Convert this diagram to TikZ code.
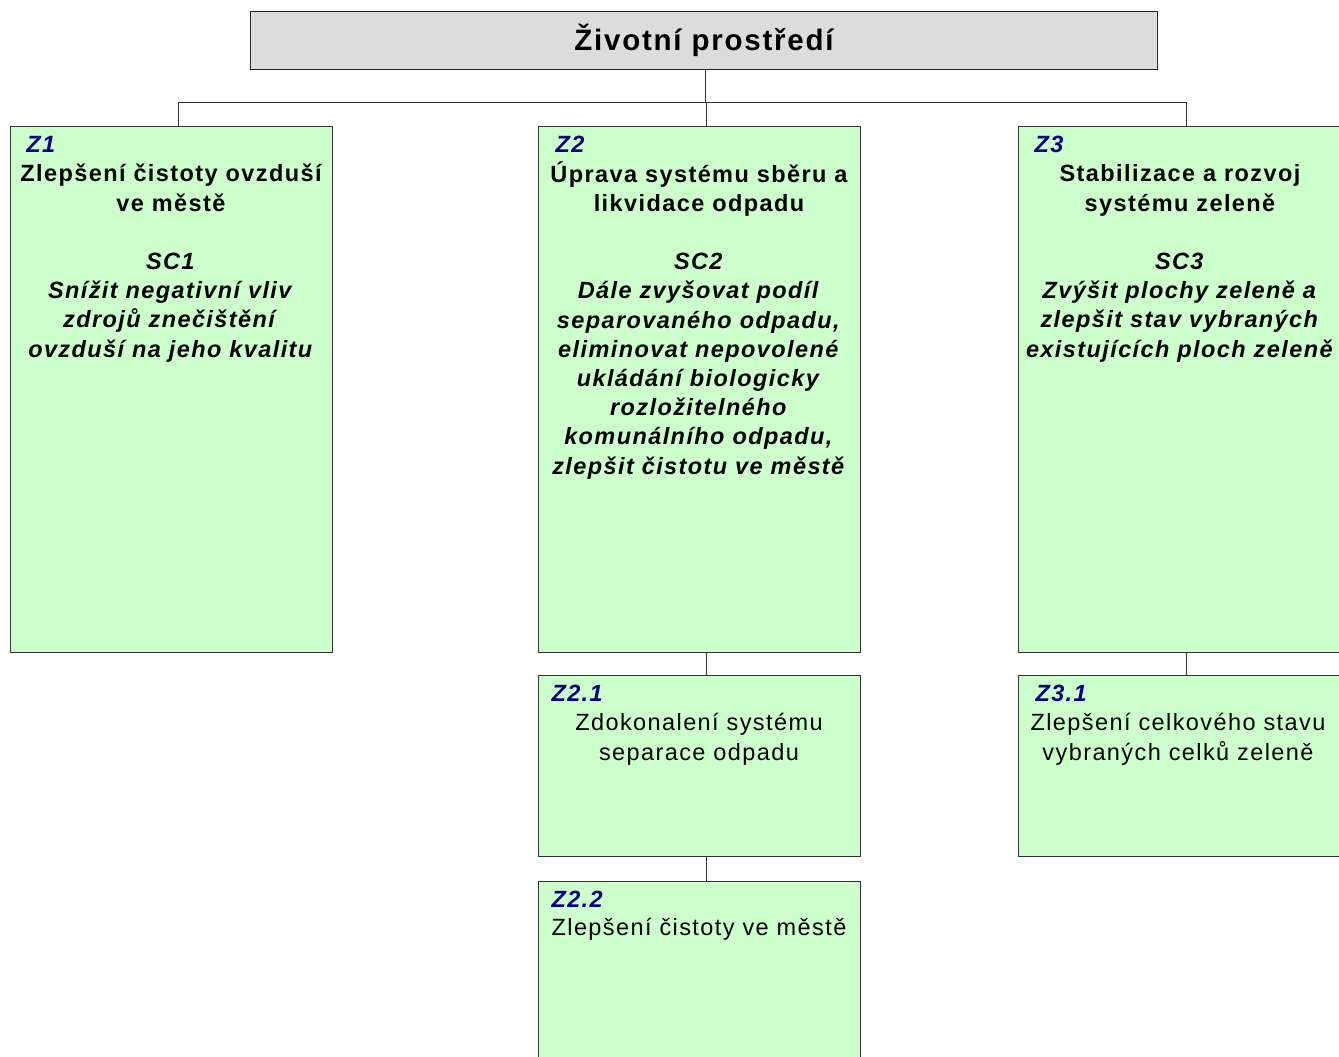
\documentclass[tikz,border=0pt]{standalone}
\usepackage{fontspec}
\setmainfont{Liberation Sans}[LetterSpace=6]
\usepackage{tikz}
\usepackage{xcolor}
\definecolor{boxgreen}{HTML}{CCFFCC}
\definecolor{headgrey}{HTML}{DCDCDC}
\definecolor{codeblue}{HTML}{000080}

\begin{document}
\begin{tikzpicture}[x=1pt, y=-1pt, line width=1pt,
	head/.style={draw=black!85, fill=headgrey, anchor=north west, minimum width=907pt, minimum height=58pt, inner sep=0pt, font=\fontsize{29.5}{36}\selectfont\bfseries},
	box/.style={draw=black!80, fill=boxgreen, anchor=north west, minimum width=322pt, inner sep=0pt},
	code/.style={anchor=base west, inner sep=0pt, text=codeblue, font=\fontsize{23.5}{29.2}\selectfont\bfseries\itshape},
	aim/.style={anchor=base, align=center, inner sep=0pt, font=\fontsize{23.5}{29.2}\selectfont\bfseries},
	task/.style={anchor=base, align=center, inner sep=0pt, font=\fontsize{23.5}{29.2}\selectfont},
	link/.style={draw=black!80}]
		\useasboundingbox (0,0) rectangle (1339,1057);
		\node[head] (title) at (250,11) {Životní prostředí};
		\node[box, minimum height=526pt] (z1) at (10,126) {};
		\node[box, minimum height=526pt] (z2) at (538,126) {};
		\node[box, minimum height=526pt] (z3) at (1018,126) {};
		\node[box, minimum height=181pt] (z21) at (538,675) {};
		\node[box, minimum height=200pt] (z22) at (538,881) {};
		\node[box, minimum height=181pt] (z31) at (1018,675) {};
		\node[code] (z1c) at (26,152) {Z1};
		\node[code] (z2c) at (555,152) {Z2};
		\node[code] (z3c) at (1034,152) {Z3};
		\node[code] (z21c) at (551,701) {Z2.1};
		\node[code] (z22c) at (551,907) {Z2.2};
		\node[code] (z31c) at (1035,701) {Z3.1};
		\node[aim] (z1t) at (171,357) {Zlepšení čistoty ovzduší\\ve městě\\[29.2pt]\textit{SC1}\\\textit{Snížit negativní vliv}\\\textit{zdrojů znečištění}\\\textit{ovzduší na jeho kvalitu}};
		\node[aim] (z2t) at (699,474) {Úprava systému sběru a\\likvidace odpadu\\[29.2pt]\textit{SC2}\\\textit{Dále zvyšovat podíl}\\\textit{separovaného odpadu,}\\\textit{eliminovat nepovolené}\\\textit{ukládání biologicky}\\\textit{rozložitelného}\\\textit{komunálního odpadu,}\\\textit{zlepšit čistotu ve městě}};
		\node[aim] (z3t) at (1180,357) {Stabilizace a rozvoj\\systému zeleně\\[29.2pt]\textit{SC3}\\\textit{Zvýšit plochy zeleně a}\\\textit{zlepšit stav vybraných}\\\textit{existujících ploch zeleně}};
		\node[task] (z21t) at (699,760) {Zdokonalení systému\\separace odpadu};
		\node[task] (z22t) at (699,935) {Zlepšení čistoty ve městě};
		\node[task] (z31t) at (1178,760) {Zlepšení celkového stavu\\vybraných celků zeleně};
		\coordinate (bus) at (705,102.5);
		\draw[link] (title.south -| bus) to (bus);
		\draw[link] ([xshift=7pt]z1.north) |- (bus) -| ([xshift=7pt]z3.north);
		\draw[link] (bus) -| ([xshift=7pt]z2.north);
		\draw[link] ([xshift=7pt]z2.south) to ([xshift=7pt]z21.north);
		\draw[link] ([xshift=7pt]z21.south) to ([xshift=7pt]z22.north);
		\draw[link] ([xshift=7pt]z3.south) to ([xshift=7pt]z31.north);
\end{tikzpicture}
\end{document}
